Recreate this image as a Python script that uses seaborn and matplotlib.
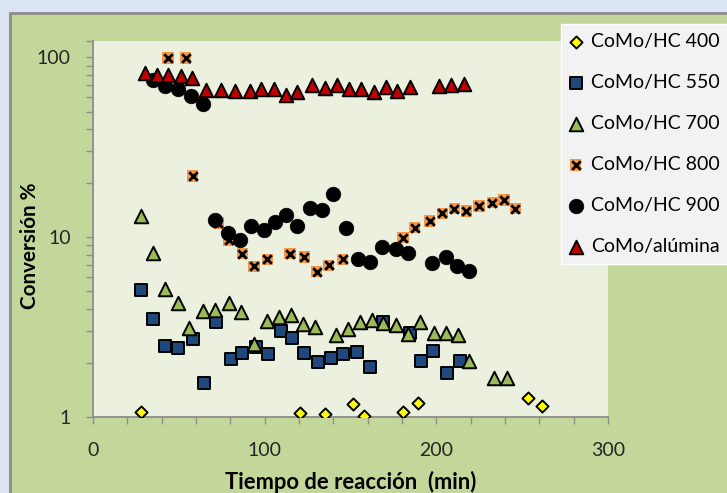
import matplotlib
matplotlib.use("Agg")
import matplotlib.pyplot as plt
import matplotlib.ticker as mticker
from matplotlib.patches import Rectangle
from matplotlib.legend_handler import HandlerTuple
import seaborn as sns
import pandas as pd

# Conversion (%) vs reaction time (min) for each catalyst
t_400 = [28.1, 120.6, 135.3, 151.6, 158.1, 180.5, 189.3, 253.6, 261.8]
c_400 = [1.06, 1.05, 1.035, 1.18, 1.01, 1.06, 1.19, 1.27, 1.15]

t_550 = [28.1, 34.9, 41.7, 49.5, 58.1, 64.9, 71.9, 80.5, 87.0, 95.1, 101.9,
         109.4, 116.2, 123.0, 131.2, 138.6, 145.4, 153.6, 161.6, 169.2,
         184.4, 191.2, 198.1, 206.3, 213.6]
c_550 = [5.12, 3.53, 2.48, 2.41, 2.70, 1.54, 3.38, 2.10, 2.26, 2.46, 2.23,
         3.00, 2.74, 2.26, 2.01, 2.12, 2.23, 2.31, 1.89, 3.38,
         2.94, 2.05, 2.33, 1.76, 2.05]

t_700 = [28.1, 34.9, 41.7, 49.3, 56.1, 64.1, 70.9, 79.1, 86.0, 93.8, 101.6,
         108.4, 115.2, 122.4, 129.2, 141.5, 148.4, 155.7, 162.4, 169.2,
         176.6, 183.4, 190.6, 198.4, 205.8, 212.7, 219.1, 233.5, 240.9]
c_700 = [13.1, 8.18, 5.14, 4.32, 3.11, 3.90, 3.93, 4.28, 3.85, 2.54, 3.41,
         3.61, 3.69, 3.28, 3.17, 2.86, 3.07, 3.36, 3.46, 3.32,
         3.24, 2.89, 3.36, 2.94, 2.94, 2.86, 2.06, 1.64, 1.64]

t_800 = [43.7, 53.9, 58.1, 72.9, 79.1, 87.0, 93.8, 101.6, 114.8, 123.0,
         130.4, 137.2, 145.4, 180.5, 187.3, 196.1, 203.5, 210.4, 217.5,
         224.9, 232.6, 239.4, 246.0]
c_800 = [99.5, 99.5, 21.9, 12.0, 9.62, 8.12, 6.90, 7.52, 8.12, 7.77,
         6.42, 6.99, 7.55, 9.96, 11.3, 12.3, 13.6, 14.4, 14.0,
         14.9, 15.6, 16.1, 14.4]

t_900 = [34.9, 41.9, 49.3, 57.3, 64.1, 70.8, 78.8, 85.6, 92.0, 99.4, 106.0,
         112.3, 119.1, 126.5, 133.2, 140.0, 147.4, 154.2, 161.6, 168.4,
         176.6, 183.4, 197.5, 205.7, 212.3, 219.1]
c_900 = [75.2, 69.0, 67.0, 60.7, 55.3, 12.4, 10.5, 9.71, 11.6, 11.0, 12.1,
         13.3, 11.6, 14.6, 14.1, 17.3, 11.2, 7.52, 7.29, 8.83,
         8.58, 8.22, 7.20, 7.77, 6.90, 6.50]

t_alu = [30.0, 37.3, 43.9, 51.3, 57.9, 66.1, 74.3, 83.0, 91.4, 98.1, 105.4,
         112.3, 119.1, 127.3, 135.3, 142.0, 149.3, 156.1, 163.5, 170.4,
         177.2, 184.8, 201.6, 208.4, 216.0]
c_alu = [82.2, 80.4, 79.8, 78.4, 77.1, 66.2, 66.2, 65.0, 65.0, 67.0, 67.0,
         61.5, 64.2, 69.9, 67.9, 69.9, 67.0, 67.0, 64.2, 68.4,
         65.0, 68.4, 69.3, 70.5, 71.4]

labels = ["CoMo/HC 400", "CoMo/HC 550", "CoMo/HC 700", "CoMo/HC 800",
          "CoMo/HC 900", "CoMo/alúmina"]
y_ticks = [1, 10, 100]
x_ticks = [0, 100, 200, 300]

plt.rcParams["font.family"] = ["Lato", "DejaVu Sans"]

W, H = 727, 493
fig = plt.figure(figsize=(W / 100, H / 100), dpi=100)
fig.patch.set_facecolor("#dbe5f1")

# chart panel behind the axes
fig.patches.append(Rectangle((10 / W, -0.1), 1.2, (H - 13) / H + 0.1,
                             transform=fig.transFigure, facecolor="#c4d79b",
                             edgecolor="#8c8c8c", linewidth=2, zorder=-5))

ax = fig.add_axes([93 / W, (H - 417) / H, (608 - 93) / W, (417 - 40.7) / H])
ax.set_facecolor("#ebf1de")

def frame(t, c):
    return pd.DataFrame({"t": t, "c": c})

edge = dict(edgecolor="black", linewidth=1.4)
sns.scatterplot(data=frame(t_400, c_400), x="t", y="c", ax=ax, marker="D",
                s=38, color="#ffff00", zorder=3, **edge)
h400 = ax.collections[-1]
sns.scatterplot(data=frame(t_550, c_550), x="t", y="c", ax=ax, marker="s",
                s=66, color="#1f497d", zorder=3, **edge)
h550 = ax.collections[-1]
sns.scatterplot(data=frame(t_700, c_700), x="t", y="c", ax=ax, marker="^",
                s=95, color="#9bbb59", zorder=4, **edge)
h700 = ax.collections[-1]
sns.scatterplot(data=frame(t_800, c_800), x="t", y="c", ax=ax, marker="s",
                s=66, color="#f79646", edgecolor="none", linewidth=0, zorder=3)
h800a = ax.collections[-1]
sns.scatterplot(data=frame(t_800, c_800), x="t", y="c", ax=ax, marker="x",
                s=38, color="black", linewidth=2, zorder=3)
h800b = ax.collections[-1]
sns.scatterplot(data=frame(t_900, c_900), x="t", y="c", ax=ax, marker="o",
                s=110, color="black", edgecolor="black", linewidth=0.5, zorder=3)
h900 = ax.collections[-1]
sns.scatterplot(data=frame(t_alu, c_alu), x="t", y="c", ax=ax, marker="^",
                s=95, color="#c00000", zorder=5, **edge)
halu = ax.collections[-1]

ax.set_yscale("log")
ax.set_xlim(0, 300)
ax.set_ylim(1, 124)
ax.yaxis.set_major_locator(mticker.FixedLocator(y_ticks))
ax.yaxis.set_major_formatter(mticker.FixedFormatter([str(v) for v in y_ticks]))
ax.yaxis.set_minor_locator(mticker.FixedLocator(
    [m * d for d in (1, 10) for m in range(2, 10)] + [124]))
ax.yaxis.set_minor_formatter(mticker.NullFormatter())
ax.xaxis.set_major_locator(mticker.FixedLocator(x_ticks))
ax.xaxis.set_major_formatter(mticker.FixedFormatter([str(v) for v in x_ticks]))
ax.xaxis.set_minor_locator(mticker.MultipleLocator(20))

for s in ("top", "right"):
    ax.spines[s].set_visible(False)
for s in ("left", "bottom"):
    ax.spines[s].set_color("#8c8c8c")
    ax.spines[s].set_linewidth(1.3)
ax.tick_params(which="both", direction="out", color="#8c8c8c", length=5,
               width=1, labelsize=14, labelcolor="#262626")
ax.tick_params(axis="y", pad=11)
ax.tick_params(axis="x", pad=13)

ax.set_xlabel("Tiempo de reacción  (min)", fontsize=13.5, fontweight="bold")
ax.set_ylabel("Conversión %", fontsize=13.5, fontweight="bold")

# scale the axis titles to their intended extents (px)
fig.canvas.draw()
r = fig.canvas.get_renderer()
xl, yl = ax.xaxis.label, ax.yaxis.label
xl.set_fontsize(13.5 * 250 / xl.get_window_extent(r).width)
yl.set_fontsize(13.5 * 126 / yl.get_window_extent(r).height)
xl.set_va("baseline")
ax.xaxis.set_label_coords(0.5, (417 - 489) / (417 - 40.7))
yl.set_va("center")
ax.yaxis.set_label_coords((29.5 - 93) / (608 - 93), (417 - 245.5) / (417 - 40.7))

leg = fig.legend([h400, h550, h700, (h800a, h800b), h900, halu], labels,
                 handler_map={tuple: HandlerTuple(ndivide=1, pad=0)},
                 loc="upper left", bbox_to_anchor=(561 / W, 1 - 24 / H),
                 frameon=True, fancybox=False, fontsize=14,
                 handlelength=0.6, handletextpad=0.5, labelspacing=1.24,
                 borderpad=0.45, borderaxespad=0)
leg.get_frame().set_facecolor("#f2f2f2")
leg.get_frame().set_edgecolor("#ffffff")
leg.get_frame().set_linewidth(1)
leg.get_frame().set_alpha(1)

fig.savefig("out.png", dpi=100)
